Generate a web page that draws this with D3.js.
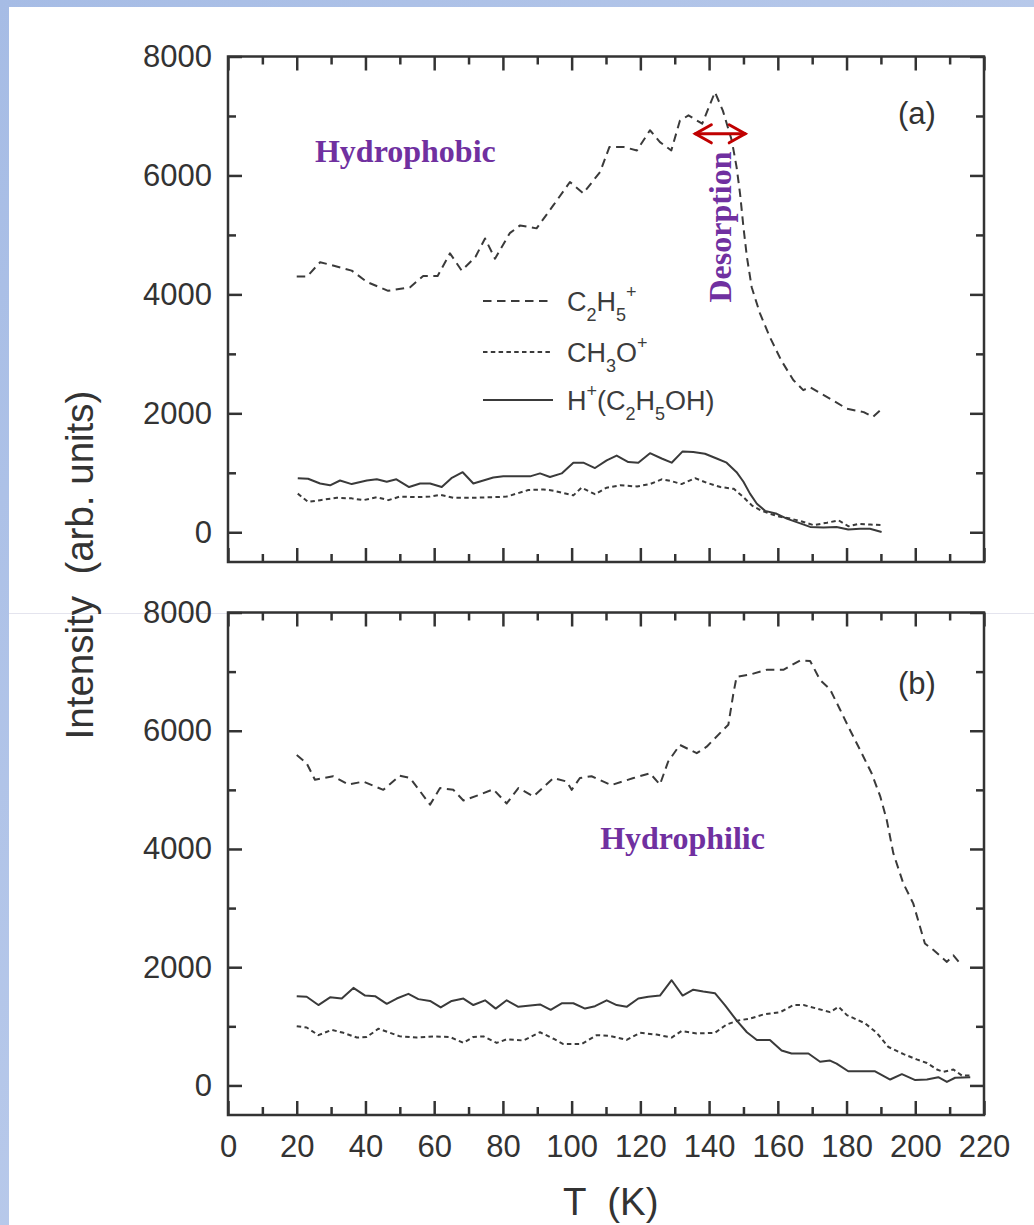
<!DOCTYPE html>
<html>
<head>
<meta charset="utf-8">
<script src="https://cdn.jsdelivr.net/npm/d3@7"></script>
<style>
  html, body { margin: 0; padding: 0; background: #fff; }
  svg { display: block; }
</style>
</head>
<body>
<div id="chart"></div>
<script>
// tick values
const xMajor = [0, 20, 40, 60, 80, 100, 120, 140, 160, 180, 200, 220];
const xMinor = [10, 30, 50, 70, 90, 110, 130, 150, 170, 190, 210];
const yMajor = [0, 2000, 4000, 6000, 8000];
const yMinor = [1000, 3000, 5000, 7000];

// panel (a) hydrophobic : [T (K), intensity]
const aC2H5 = [[20,4300],[23,4300],[26.8,4540],[29.7,4500],[36,4400],[40.4,4210],[46.6,4060],[53,4120],[56.8,4310],[61,4310],[64.6,4690],[68,4400],[72,4630],[74.8,4940],[77.7,4600],[82,5030],[85,5160],[89.8,5110],[94.7,5500],[99.5,5890],[103.4,5700],[108.3,6060],[111,6480],[115,6480],[119,6420],[122.8,6760],[125.7,6560],[129,6420],[131.5,6920],[134,7010],[138,6870],[141.7,7400],[144,7090],[146.6,6590],[148,6140],[149,5700],[150,5130],[151,4630],[152.4,4120],[154.8,3680],[157.7,3280],[161,2890],[164.5,2560],[167.4,2390],[169.4,2440],[172.3,2340],[176,2220],[180,2080],[185,2020],[187.7,1940],[189.8,2050]];
const aCH3O = [[20.3,650],[23.3,510],[26.8,540],[31.7,580],[36,570],[39.4,540],[43.3,590],[46.7,540],[50,600],[54.9,590],[58.8,600],[61.7,630],[65.6,580],[71.4,580],[77.2,590],[81.1,600],[84,650],[87.4,710],[91.8,720],[94.7,700],[97.6,660],[100.5,620],[102.9,750],[106.8,640],[110.2,750],[114.1,790],[119,770],[122.8,810],[126.2,890],[129,860],[132,810],[135.9,910],[139.4,830],[143.3,760],[147.2,730],[150,590],[152.5,450],[155,370],[157.8,310],[160.7,260],[163.6,230],[166.5,190],[170.4,120],[174.3,160],[177.7,200],[180.6,100],[183.5,140],[186.9,130],[190.3,120]];
const aHEtOH = [[20.3,910],[23.3,900],[26.8,820],[29.7,790],[32.6,870],[36,810],[40.4,870],[43.3,890],[46.2,850],[49,890],[52.7,760],[55.9,820],[58.8,820],[62.2,760],[65,910],[68.3,1010],[71.4,820],[74.3,870],[77.2,920],[80.1,940],[83,940],[87.9,940],[90.8,990],[93.7,930],[97.1,990],[100.5,1170],[103.4,1170],[106.8,1080],[110.2,1210],[113.1,1290],[116.5,1180],[119.4,1170],[122.8,1330],[126.2,1240],[129.1,1170],[132.3,1360],[135.4,1350],[138.8,1320],[142.2,1240],[145.1,1170],[148,1010],[150,850],[151.9,650],[153.9,480],[156.3,360],[159.7,310],[162.6,230],[165.5,170],[169.4,90],[173.3,80],[177.1,90],[180.5,45],[183.9,60],[186.8,60],[190.2,5]];

// panel (b) hydrophilic : [T (K), intensity]
const bC2H5 = [[20,5590],[22.9,5450],[25.3,5170],[30.6,5230],[35,5090],[39.4,5140],[45.2,5000],[50,5240],[53,5200],[58.8,4750],[61.7,5030],[65.6,5000],[68.5,4820],[73.3,4920],[77.2,5010],[81.1,4770],[84.5,5030],[88.9,4890],[94.7,5200],[98.6,5140],[100,5000],[102.4,5200],[105.8,5230],[111.5,5080],[118,5200],[122.8,5280],[125.7,5090],[128.1,5480],[131.5,5760],[136.4,5620],[139.3,5730],[144.2,6020],[145.6,6100],[147.1,6640],[148,6910],[151.9,6950],[156.7,7030],[161.6,7030],[166.5,7190],[169.4,7180],[172.3,6860],[175.2,6700],[178.1,6360],[180.5,6070],[183.9,5680],[187.3,5280],[189.8,4890],[191.7,4490],[193.6,3930],[196.5,3420],[199.4,3080],[201.4,2680],[202.8,2400],[205.3,2290],[209.2,2090],[211.1,2200],[213.5,2030]];
const bCH3O = [[20,1000],[22.9,980],[26.3,850],[30.2,940],[33.6,890],[37.5,810],[40.4,820],[43.8,960],[46.7,900],[50,830],[54.9,810],[59.7,830],[64.6,820],[68.5,720],[71.4,820],[74.3,830],[78.2,720],[81.1,780],[86,760],[90.8,900],[94.7,790],[97.6,700],[102.9,700],[107.3,850],[111,840],[116,770],[119.9,890],[124.7,860],[129.1,810],[132,920],[136.4,880],[141.7,890],[145.1,1030],[148.5,1100],[151.9,1130],[155.8,1200],[160.7,1240],[164.6,1360],[167.5,1360],[171.4,1300],[175.2,1240],[177.7,1330],[180.1,1190],[185.4,1050],[188.8,890],[192.2,650],[196.6,530],[200.4,440],[203.4,380],[206.3,270],[208.2,230],[211.1,270],[213.5,170],[216,170]];
const bHEtOH = [[20,1510],[22.9,1500],[26.3,1360],[29.7,1490],[33.1,1470],[36.5,1650],[39.9,1520],[42.8,1510],[46.2,1380],[49.1,1470],[52.5,1550],[55.4,1460],[58.8,1430],[61.9,1320],[65.1,1430],[68.5,1470],[71.4,1360],[74.8,1440],[77.9,1300],[81.1,1440],[84.5,1330],[90.8,1370],[93.9,1280],[97.1,1390],[100.5,1390],[103.9,1300],[106.8,1340],[110.2,1440],[113.1,1360],[116,1330],[119.4,1470],[122.3,1500],[125.7,1520],[129.1,1780],[132.3,1520],[135.4,1620],[138.3,1590],[141.7,1560],[144.6,1360],[148,1100],[151,900],[153.9,770],[157.7,770],[161.1,590],[164,540],[168.9,540],[172.3,400],[175.2,420],[177.1,370],[180.5,240],[184.9,240],[188.3,240],[192.7,100],[196.1,190],[200,90],[203.4,100],[206.7,140],[209.2,60],[211.6,130],[216,140]];

const W = 1034, H = 1225;
const FONT = '"Liberation Sans", Arial, Helvetica, sans-serif';
const INK = '#333';
const LINE = '#3a3a3a';
const PURPLE = '#7030A0';

const svg = d3.select('#chart').append('svg')
  .attr('width', W)
  .attr('height', H);

// slide background: blue gradient frame on top and left
const defs = svg.append('defs');
const grad = defs.append('linearGradient')
  .attr('id', 'bg')
  .attr('x1', '0').attr('y1', '0')
  .attr('x2', '1').attr('y2', '1');
grad.append('stop').attr('offset', '0%').attr('stop-color', '#a6bce5');
grad.append('stop').attr('offset', '100%').attr('stop-color', '#c8d5ef');

svg.append('rect').attr('width', W).attr('height', H).attr('fill', 'url(#bg)');
svg.append('rect').attr('x', 9).attr('y', 7).attr('width', W - 9).attr('height', H - 7).attr('fill', '#fff');
svg.append('line')
  .attr('x1', 9).attr('x2', W).attr('y1', 613.5).attr('y2', 613.5)
  .attr('stroke', '#e4e4ee').attr('stroke-width', 1);

const x = d3.scaleLinear().domain([0, 220]).range([228, 984]);

const panels = [
  { top: 56.5, bottom: 562, tag: '(a)', tagY: 124, showX: false,
    series: [aC2H5, aCH3O, aHEtOH] },
  { top: 612.5, bottom: 1115, tag: '(b)', tagY: 694, showX: true,
    series: [bC2H5, bCH3O, bHEtOH] }
];

const styles = [
  { dash: '8.5,5.5' },
  { dash: '4.5,3.3' },
  { dash: null }
];

function styleAxis(g) {
  g.select('.domain').remove();
  g.selectAll('.tick line').attr('stroke', INK).attr('stroke-width', 2.5);
  g.selectAll('.tick text').attr('fill', INK).style('font-family', FONT).style('font-size', '31px');
}

panels.forEach(p => {
  const y = d3.scaleLinear().domain([-500, 8000]).range([p.bottom, p.top]);
  p.y = y;
  const g = svg.append('g');

  // ticks, all pointing inward
  g.append('g').attr('transform', `translate(${x(0)},0)`)
    .call(d3.axisLeft(y).tickValues(yMajor).tickFormat(d3.format('d'))
      .tickSizeInner(-14).tickSizeOuter(0).tickPadding(16))
    .call(styleAxis);
  g.append('g').attr('transform', `translate(${x(0)},0)`)
    .call(d3.axisLeft(y).tickValues(yMinor).tickSizeInner(-8).tickSizeOuter(0).tickFormat(''))
    .call(styleAxis);
  g.append('g').attr('transform', `translate(${x(220)},0)`)
    .call(d3.axisRight(y).tickValues(yMajor).tickSizeInner(-14).tickSizeOuter(0).tickFormat(''))
    .call(styleAxis);
  g.append('g').attr('transform', `translate(${x(220)},0)`)
    .call(d3.axisRight(y).tickValues(yMinor).tickSizeInner(-8).tickSizeOuter(0).tickFormat(''))
    .call(styleAxis);
  g.append('g').attr('transform', `translate(0,${p.top})`)
    .call(d3.axisTop(x).tickValues(xMajor).tickSizeInner(-14).tickSizeOuter(0).tickFormat(''))
    .call(styleAxis);
  g.append('g').attr('transform', `translate(0,${p.top})`)
    .call(d3.axisTop(x).tickValues(xMinor).tickSizeInner(-8).tickSizeOuter(0).tickFormat(''))
    .call(styleAxis);
  const bottomAxis = d3.axisBottom(x).tickValues(xMajor)
    .tickFormat(p.showX ? d3.format('d') : '')
    .tickSizeInner(-14).tickSizeOuter(0).tickPadding(20);
  g.append('g').attr('transform', `translate(0,${p.bottom})`)
    .call(bottomAxis)
    .call(styleAxis);
  g.append('g').attr('transform', `translate(0,${p.bottom})`)
    .call(d3.axisBottom(x).tickValues(xMinor).tickSizeInner(-8).tickSizeOuter(0).tickFormat(''))
    .call(styleAxis);

  // frame
  g.append('rect')
    .attr('x', x(0)).attr('y', p.top)
    .attr('width', x(220) - x(0)).attr('height', p.bottom - p.top)
    .attr('fill', 'none').attr('stroke', INK).attr('stroke-width', 2.5);

  // curves
  const line = d3.line().x(d => x(d[0])).y(d => y(d[1]));
  p.series.forEach((s, i) => {
    g.append('path')
      .datum(s)
      .attr('d', line)
      .attr('fill', 'none')
      .attr('stroke', LINE)
      .attr('stroke-width', 2)
      .attr('stroke-linejoin', 'round')
      .attr('stroke-dasharray', styles[i].dash);
  });

  // panel tag
  g.append('text')
    .attr('x', 898).attr('y', p.tagY)
    .attr('fill', INK)
    .style('font-family', FONT).style('font-size', '31px')
    .text(p.tag);
});

// legend in panel (a)
const legendRows = [
  { y: 301, parts: [['C', 0], ['2', 1], ['H', 0], ['5', 1], ['+', 2]] },
  { y: 352, parts: [['C', 0], ['H', 0], ['3', 1], ['O', 0], ['+', 2]] },
  { y: 400, parts: [['H', 0], ['+', 2], ['(C', 0], ['2', 1], ['H', 0], ['5', 1], ['OH)', 0]] }
];
const legend = svg.append('g');
legendRows.forEach((row, i) => {
  legend.append('line')
    .attr('x1', 483).attr('x2', 553)
    .attr('y1', row.y).attr('y2', row.y)
    .attr('stroke', LINE).attr('stroke-width', 2)
    .attr('stroke-dasharray', styles[i].dash);
  const t = legend.append('text')
    .attr('x', 567).attr('y', row.y + 10)
    .attr('fill', '#3c3c3c')
    .style('font-family', FONT).style('font-size', '27px');
  let shift = 0;
  row.parts.forEach(([s, kind]) => {
    const target = kind === 1 ? 10 : kind === 2 ? -13 : 0;
    t.append('tspan')
      .attr('dy', target - shift)
      .style('font-size', kind === 0 ? '27px' : '18px')
      .text(s);
    shift = target;
  });
});

// axis titles
svg.append('text')
  .attr('x', 563).attr('y', 1215)
  .attr('fill', INK)
  .style('font-family', FONT).style('font-size', '38.5px')
  .style('white-space', 'pre')
  .text('T  (K)');

svg.append('text')
  .attr('transform', 'translate(93,565) rotate(-90)')
  .attr('text-anchor', 'middle')
  .attr('fill', INK)
  .style('font-family', FONT).style('font-size', '38.5px')
  .style('white-space', 'pre')
  .text('Intensity  (arb. units)');

// annotations
const yA = panels[0].y, yB = panels[1].y;
const SERIF = '"Liberation Serif", "Times New Roman", serif';

svg.append('text')
  .attr('x', x(25.3)).attr('y', yA(6226))
  .attr('fill', PURPLE)
  .style('font-family', SERIF).style('font-weight', 'bold').style('font-size', '32px')
  .text('Hydrophobic');

svg.append('text')
  .attr('x', x(108.3)).attr('y', yB(4000))
  .attr('fill', PURPLE)
  .style('font-family', SERIF).style('font-weight', 'bold').style('font-size', '32px')
  .text('Hydrophilic');

svg.append('text')
  .attr('transform', `translate(${x(146.4)},${yA(5133)}) rotate(-90)`)
  .attr('text-anchor', 'middle')
  .attr('fill', PURPLE)
  .style('font-family', SERIF).style('font-weight', 'bold').style('font-size', '32px')
  .text('Desorption');

// red double arrow marking the desorption range
const ax1 = x(136), ax2 = x(150.5), ay = yA(6700);
const arrow = svg.append('g')
  .attr('stroke', '#c00000').attr('stroke-width', 3)
  .attr('fill', 'none').attr('stroke-linecap', 'round');
arrow.append('line').attr('x1', ax1).attr('x2', ax2).attr('y1', ay).attr('y2', ay);
arrow.append('path').attr('d', `M${ax1 + 16},${ay - 9} L${ax1},${ay} L${ax1 + 16},${ay + 9}`);
arrow.append('path').attr('d', `M${ax2 - 16},${ay - 9} L${ax2},${ay} L${ax2 - 16},${ay + 9}`);
</script>
</body>
</html>
